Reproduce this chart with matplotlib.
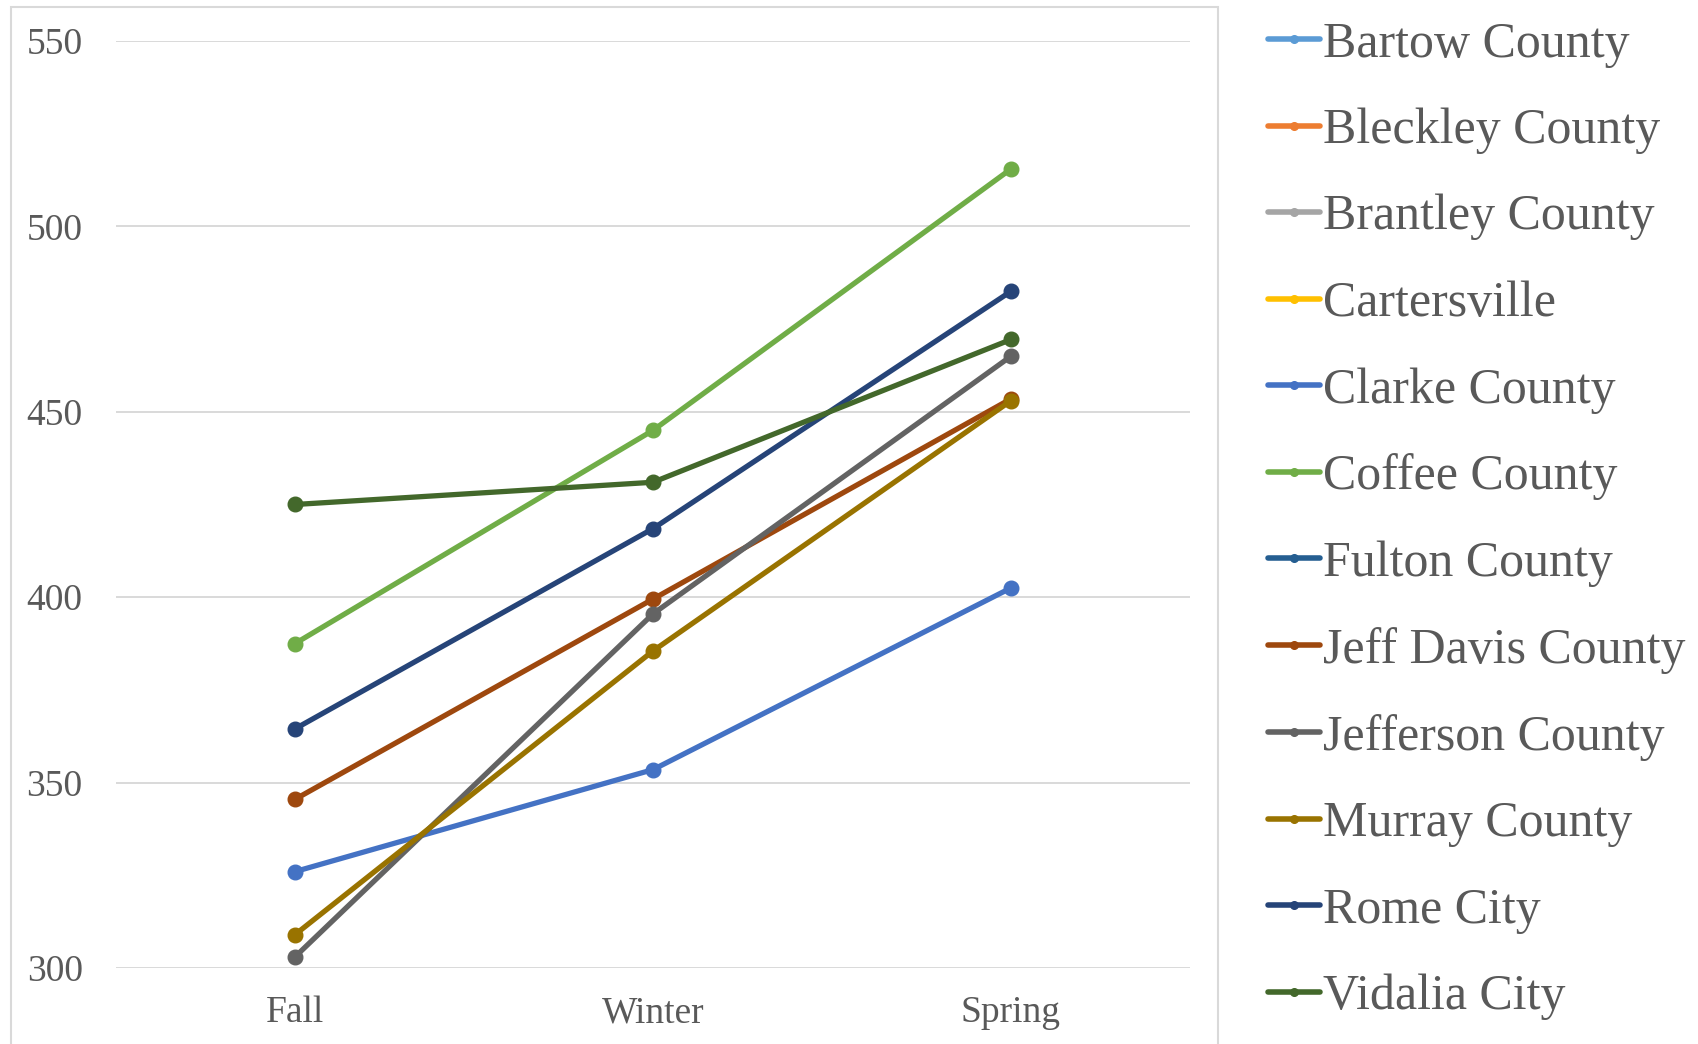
import numpy as np
import matplotlib
matplotlib.use("Agg")
import matplotlib.pyplot as plt
from matplotlib.patches import Rectangle

# terms on the x axis
terms = ["Fall", "Winter", "Spring"]

# district names, in legend order
districts = ["Bartow County", "Bleckley County", "Brantley County", "Cartersville",
             "Clarke County", "Coffee County", "Fulton County", "Jeff Davis County",
             "Jefferson County", "Murray County", "Rome City", "Vidalia City"]

# scores per district (nan = no data shown)
bartow = [np.nan, np.nan, np.nan]
bleckley = [np.nan, np.nan, np.nan]
brantley = [np.nan, np.nan, np.nan]
cartersville = [np.nan, np.nan, np.nan]
clarke = [326, 353.5, 402.5]
coffee = [387.5, 445, 515.5]
fulton = [np.nan, np.nan, np.nan]
jeff_davis = [345.5, 399.5, 453.5]
jefferson = [303, 395.5, 465]
murray = [309, 385.5, 453]
rome = [364.5, 418.5, 482.5]
vidalia = [425, 431, 469.5]

series = [bartow, bleckley, brantley, cartersville, clarke, coffee, fulton,
          jeff_davis, jefferson, murray, rome, vidalia]

colours = ["#5B9BD5", "#ED7D31", "#A5A5A5", "#FFC000", "#4472C4", "#70AD47",
           "#255E91", "#9E480E", "#636363", "#997300", "#264478", "#43682B"]

yticks = [300, 350, 400, 450, 500, 550]

W, H = 1699, 1044
fig = plt.figure(figsize=(W / 100, H / 100), dpi=100)
plt.rcParams['font.family'] = ['Liberation Serif', 'DejaVu Serif']

# axes box in pixels: left 116, right 1190, top 41, bottom 968
ax = fig.add_axes([116 / W, 1 - 968 / H, (1190 - 116) / W, (968 - 41) / H])

x = np.arange(len(terms)) + 0.5
for vals, name, c in zip(series, districts, colours):
    ax.plot(x, vals, color=c, lw=3.8, marker="o", ms=10.5, label=name,
            solid_capstyle="round")

ax.set_xlim(0, 3)
ax.set_ylim(300, 550)
ax.set_yticks(yticks)
ax.set_xticks(x)
ax.set_xticklabels(terms)
ax.grid(axis="y", color="#D9D9D9", lw=1.4)
ax.set_axisbelow(True)
for s in ax.spines.values():
    s.set_visible(False)
ax.tick_params(axis="both", length=0, labelsize=27, labelcolor="#595959")
ax.tick_params(axis="y", pad=24)
ax.tick_params(axis="x", pad=20)

# chart area border
fig.add_artist(Rectangle((11 / W, -0.05), (1218 - 11) / W, 1.05 - 7 / H,
                         transform=fig.transFigure, fill=False,
                         edgecolor="#D9D9D9", lw=1.5))

leg = fig.legend(loc="upper left", bbox_to_anchor=(1248 / W, 1 - 1 / H),
                 frameon=False, fontsize=36, handlelength=1.05,
                 handletextpad=0.05, labelspacing=0.80, borderaxespad=0)
for t in leg.get_texts():
    t.set_color("#595959")
for ln in leg.get_lines():
    ln.set_linewidth(4)
    ln.set_markersize(5.5)

fig.savefig("out.png", dpi=100)
